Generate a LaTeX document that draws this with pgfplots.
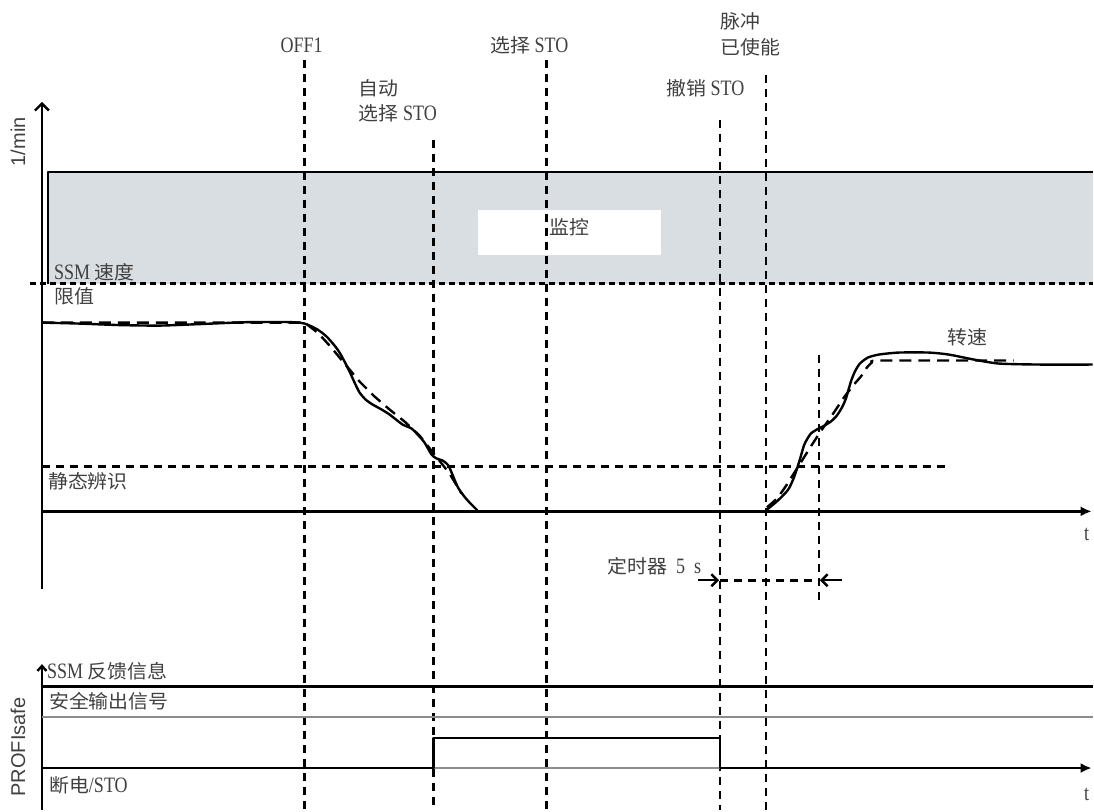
\documentclass[border=0pt]{standalone}
\usepackage{pgfplots}
\pgfplotsset{compat=1.18}
\usetikzlibrary{arrows.meta}
\usepackage{fontspec}
\setmainfont{Liberation Serif}[FakeStretch=0.82]
\newfontfamily\cjk{Noto Sans CJK SC}[FakeStretch=1.05]
\newfontfamily\sansf{Liberation Sans}
\definecolor{boxfill}{HTML}{D9DEE2}
\definecolor{txt}{HTML}{404040}
\definecolor{thinc}{HTML}{8C8C8C}
\newcommand\lf{\fontsize{22}{25}\selectfont}
\newcommand\cj[1]{{\cjk\fontsize{19}{22}\selectfont #1}}
\tikzset{
  lbl/.style={inner sep=0pt, text=txt, font=\lf},
  vdash/.style={black, line width=2.5pt, dash pattern=on 8pt off 6pt},
  cdash/.style={black, line width=2.4pt, dash pattern=on 12pt off 7pt},
}
\begin{document}
\begin{tikzpicture}
\begin{axis}[
  scale only axis, width=1094pt, height=811pt,
  xmin=0, xmax=1094, ymin=0, ymax=811, y dir=reverse,
  axis lines=none, clip=false, no markers,
  every axis plot/.append style={line join=round},
]
% invisible frame for bounding box
\addplot[draw=none] coordinates {(0,0) (1094,811)};
% monitoring band
\addplot[fill=boxfill, draw=none] coordinates {(48,172) (1094,172) (1094,284) (48,284)};
\addplot[fill=white, draw=none] coordinates {(479,210) (662,210) (662,255) (479,255)};
\addplot[black, line width=2.4pt] coordinates {(48,284) (48,172) (1094,172)};
\addplot[black, line width=2.4pt, dash pattern=on 6pt off 4pt] coordinates {(30,284) (1094,284)};
% upper axes
\addplot[black, line width=2.4pt, -{Straight Barb[length=7pt,width=14pt]}] coordinates {(42,590) (42,102)};
\addplot[black, line width=2.4pt, -{Latex[length=11pt,width=10pt]}] coordinates {(42,512) (1093,512)};
% standstill threshold
\addplot[vdash] coordinates {(42,467) (948,467)};
% event lines
\addplot[vdash] coordinates {(305,60) (305,811)};
\addplot[vdash] coordinates {(434,140) (434,811)};
\addplot[vdash] coordinates {(547,60) (547,811)};
\addplot[vdash] coordinates {(721,120) (721,811)};
\addplot[vdash] coordinates {(767,75) (767,811)};
\addplot[vdash] coordinates {(820,355) (820,605)};
% speed (solid)
\addplot[black, line width=2.4pt, smooth, tension=0.4] coordinates {
(42,323)(80,324)(120,325.5)(160,326)(200,324.5)(250,322.5)(290,322.5)(305,324)(318,330)(327,337)(335,346)(340,353)(345,362)(350,372)(355,383)(360,393)(366,400)(373,405)(382,410)(390,415)(403,425)(412,429)(419,436)(425,443)(432,455)(437,459)(443,461)(447,464)(450,468)(458,487)(464,496)(470,503)(478,511)};
\addplot[black, line width=2.4pt, smooth, tension=0.4] coordinates {
(767,511)(772,507)(779,501)(786,494)(790,489)(795,478)(800,463)(805,446)(808,440)(812,434)(818,430)(824,427)(832,422)(838,416)(843,408)(847,399)(852,382)(856,372)(861,364)(869,358)(880,355)(900,353)(930,353)(950,355)(975,360)(1000,364)(1040,365)(1094,365)};
% speed (dashed approximation)
\addplot[cdash] coordinates {(42,323)(305,323)(318,333)(330,346)(345,364)(360,382)(375,397)(390,410)(405,422)(420,436)(435,455)(450,474)(462,494)};
\addplot[cdash, smooth, tension=0.3] coordinates {(768,508)(778,499)(786,488)(793,477)(800,466)(810,450)(821,433)(835,413)(845,398)(855,385)(862,377)(868,368)(873,363)(880,361)(1015,361)};
% timer
\addplot[black, line width=2.4pt, -{Straight Barb[length=6pt,width=12pt]}] coordinates {(699,581) (720,581)};
\addplot[vdash] coordinates {(721,581) (820,581)};
\addplot[black, line width=2.4pt, -{Straight Barb[length=6pt,width=12pt]}] coordinates {(843,581) (821,581)};
% lower chart
\addplot[black, line width=2.4pt, -{Straight Barb[length=5pt,width=9pt]}] coordinates {(42,811) (42,665)};
\addplot[black, line width=2.8pt] coordinates {(42,687) (1094,687)};
\addplot[thinc, line width=1.3pt] coordinates {(42,718) (1094,718)};
\addplot[thinc, line width=1.3pt] coordinates {(434,769) (721,769)};
\addplot[black, line width=2.8pt, -{Latex[length=11pt,width=10pt]}] coordinates {(42,769) (434,769) (434,739) (721,739) (721,769) (1093,769)};
% texts
\node[lbl, rotate=90, font=\sansf\fontsize{20}{24}\selectfont] at (axis cs:18,142) {1/min};
\node[lbl, rotate=90, font=\sansf\fontsize{20}{24}\selectfont] at (axis cs:18,748) {PROFIsafe};
\node[lbl] at (axis cs:302,45) {OFF1};
\node[lbl] at (axis cs:530,45) {\cj{选择}\ STO};
\node[lbl, anchor=west] at (axis cs:359,88) {\cj{自动}};
\node[lbl, anchor=west] at (axis cs:359,113) {\cj{选择}\ STO};
\node[lbl, anchor=west] at (axis cs:721,21) {\cj{脉冲}};
\node[lbl, anchor=west] at (axis cs:721,47) {\cj{已使能}};
\node[lbl, anchor=west] at (axis cs:667,88) {\cj{撤销}\ STO};
\node[lbl, anchor=west] at (axis cs:54,273) {SSM\ \cj{速度}};
\node[lbl, anchor=west] at (axis cs:54,297) {\cj{限值}};
\node[lbl] at (axis cs:570,227) {\cj{监控}};
\node[lbl, anchor=west] at (axis cs:48,482) {\cj{静态辨识}};
\node[lbl] at (axis cs:969,338) {\cj{转速}};
\node[lbl] at (axis cs:1088,535) {t};
\node[lbl] at (axis cs:1088,795) {t};
\node[lbl, anchor=west] at (axis cs:608,567) {\cj{定时器}\ \ 5\ \ s};
\node[lbl, anchor=west] at (axis cs:47,672) {SSM\ \cj{反馈信息}};
\node[lbl, anchor=west] at (axis cs:49,702) {\cj{安全输出信号}};
\node[lbl, anchor=west] at (axis cs:49,786) {\cj{断电}/STO};
\end{axis}
\end{tikzpicture}
\end{document}
